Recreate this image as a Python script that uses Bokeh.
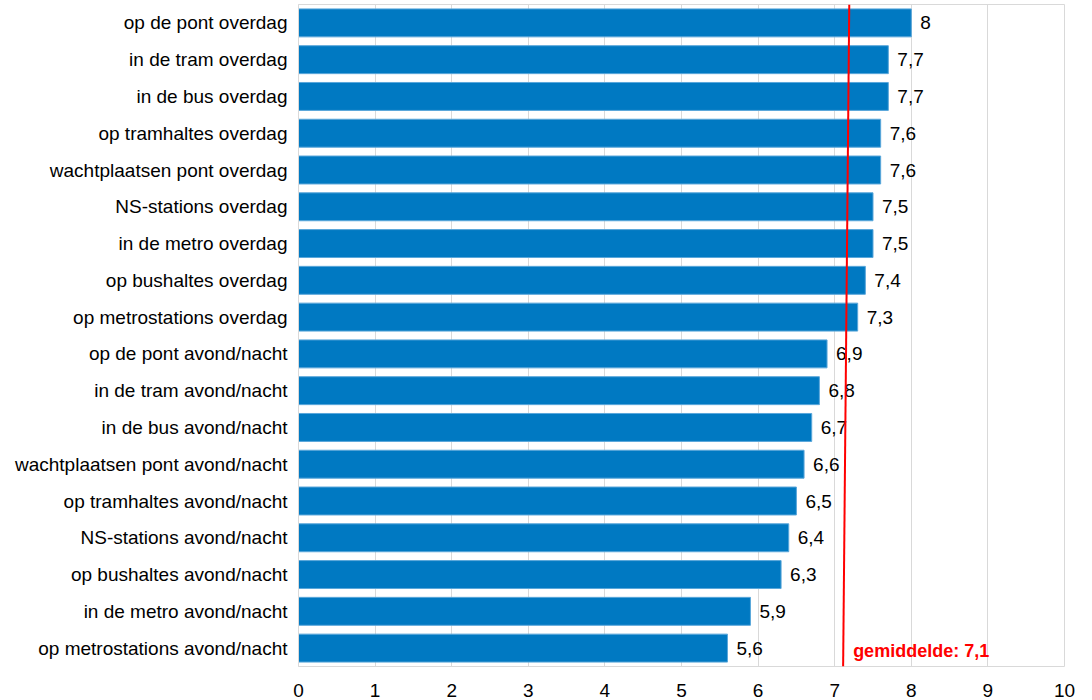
from bokeh.plotting import figure
from bokeh.models import ColumnDataSource, Range1d, FixedTicker
from bokeh.core.properties import value
from bokeh.embed import file_html
from bokeh.resources import INLINE

# Rapportcijfers voor veiligheid in het openbaar vervoer
locaties = [
    "op de pont overdag",
    "in de tram overdag",
    "in de bus overdag",
    "op tramhaltes overdag",
    "wachtplaatsen pont overdag",
    "NS-stations overdag",
    "in de metro overdag",
    "op bushaltes overdag",
    "op metrostations overdag",
    "op de pont avond/nacht",
    "in de tram avond/nacht",
    "in de bus avond/nacht",
    "wachtplaatsen pont avond/nacht",
    "op tramhaltes avond/nacht",
    "NS-stations avond/nacht",
    "op bushaltes avond/nacht",
    "in de metro avond/nacht",
    "op metrostations avond/nacht",
]
cijfers = [8.0, 7.7, 7.7, 7.6, 7.6, 7.5, 7.5, 7.4, 7.3,
           6.9, 6.8, 6.7, 6.6, 6.5, 6.4, 6.3, 5.9, 5.6]
gemiddelde = 7.1
# the average line runs slightly slanted from top to bottom
gem_lijn_boven = 7.19
gem_lijn_onder = 7.11
x_ticks = list(range(0, 11))

FONT = "Liberation Sans"
BLAUW = "#0079C2"
ROOD = "#FF0000"
GRIJS = "#D9D9D9"
FS = "19px"

n = len(locaties)
posities = [n - i - 0.5 for i in range(n)]

src = ColumnDataSource(dict(
    y=posities,
    waarde=cijfers,
    tekst=[f"{c:g}".replace(".", ",") for c in cijfers],
))

p = figure(
    width=1092, height=700,
    x_range=Range1d(0, 10), y_range=Range1d(0, n),
    output_backend="svg", toolbar_location=None,
    min_border_left=298, min_border_right=28,
    min_border_top=4, min_border_bottom=34,
)
p.background_fill_color = "white"
p.border_fill_color = "white"
p.outline_line_color = GRIJS
p.outline_line_width = 1

p.hbar(y="y", right="waarde", left=0, height=0.76, source=src,
       fill_color=BLAUW, line_color="#5AA7DA", line_width=1)

p.text(x="waarde", y="y", text="tekst", source=src,
       x_offset=9, text_baseline="middle", text_align="left",
       text_font=value(FONT), text_font_size=FS, text_color="#000000")

# average line and its label
p.segment(x0=[gem_lijn_boven], y0=[n], x1=[gem_lijn_onder], y1=[0],
          line_color=ROOD, line_width=2)
p.text(x=[gem_lijn_onder], y=[0.5],
       text=[f"gemiddelde: {gemiddelde:g}".replace(".", ",")],
       x_offset=10, y_offset=3, text_baseline="middle", text_align="left",
       text_font=value(FONT), text_font_size="18px", text_font_style="bold",
       text_color=ROOD)

# axes
p.xaxis.ticker = FixedTicker(ticks=x_ticks)
p.xaxis.axis_line_color = None
p.xaxis.major_tick_line_color = None
p.xaxis.minor_tick_line_color = None
p.xaxis.major_label_standoff = 11
p.xaxis.major_label_text_font = FONT
p.xaxis.major_label_text_font_size = FS
p.xaxis.major_label_text_color = "#000000"

p.yaxis.ticker = FixedTicker(ticks=posities)
p.yaxis.major_label_overrides = {pos: lab for pos, lab in zip(posities, locaties)}
p.yaxis.axis_line_color = GRIJS
p.yaxis.major_tick_line_color = None
p.yaxis.minor_tick_line_color = None
p.yaxis.major_label_standoff = 5
p.yaxis.major_label_text_font = FONT
p.yaxis.major_label_text_font_size = FS
p.yaxis.major_label_text_color = "#000000"

p.xgrid.ticker = FixedTicker(ticks=x_ticks)
p.xgrid.grid_line_color = GRIJS
p.ygrid.grid_line_color = None

open("out.html", "w").write(file_html(p, INLINE))
